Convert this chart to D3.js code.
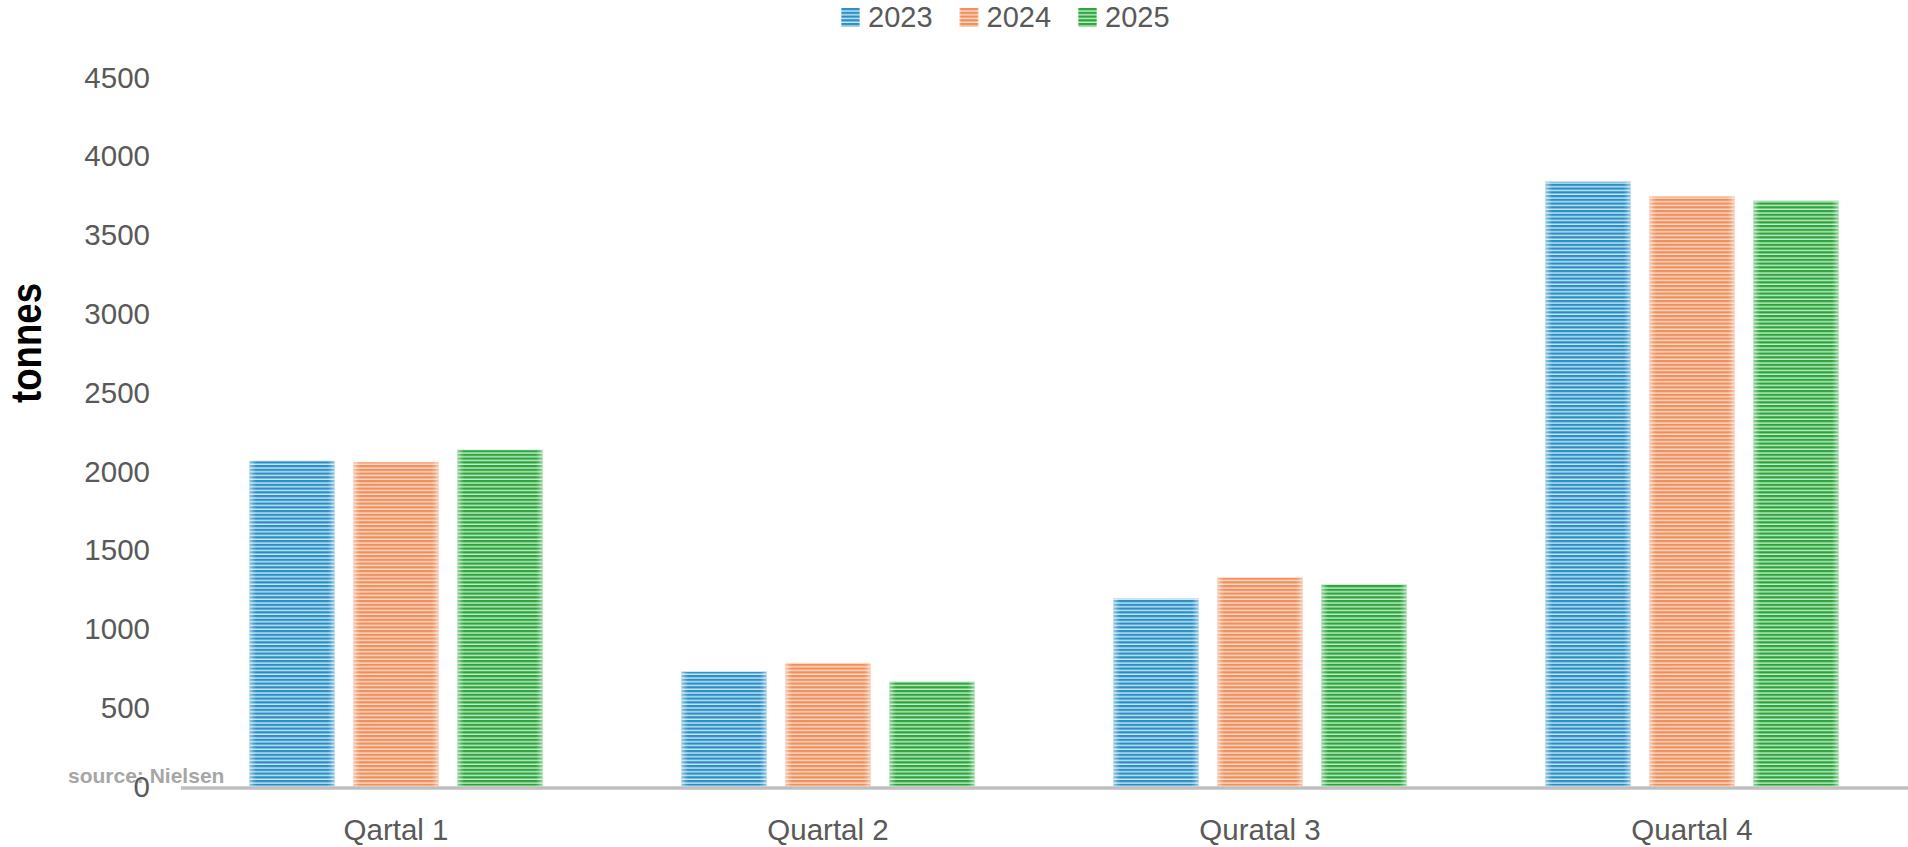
<!DOCTYPE html>
<html>
<head>
<meta charset="utf-8">
<script src="https://cdn.jsdelivr.net/npm/d3@7/dist/d3.min.js"></script>
<style>
  html, body { margin: 0; padding: 0; background: #fff; }
  svg { display: block; }
</style>
</head>
<body>
<svg id="chart" width="1908" height="847"></svg>
<script>
const categories = ["Qartal 1", "Quartal 2", "Quratal 3", "Quartal 4"];
const years = ["2023", "2024", "2025"];
const values2023 = [2063, 725, 1190, 3836];
const values2024 = [2056, 780, 1322, 3743];
const values2025 = [2133, 661, 1278, 3714];
const yTicks = [0, 500, 1000, 1500, 2000, 2500, 3000, 3500, 4000, 4500];
const seriesValues = [values2023, values2024, values2025];

const darkColors = ["#2590c8", "#f08e5a", "#28a63a"];
const lightColors = ["#cfe4f1", "#fadccb", "#c9eacd"];

const svg = d3.select("#chart");
const defs = svg.append("defs");

years.forEach((yr, i) => {
  const p = defs.append("pattern")
    .attr("id", "stripe" + i)
    .attr("patternUnits", "userSpaceOnUse")
    .attr("width", 20).attr("height", 3.75);
  p.append("rect").attr("width", 20).attr("height", 3.75).attr("fill", lightColors[i]);
  p.append("rect").attr("width", 20).attr("height", 2.3).attr("fill", darkColors[i]);
});
const g = defs.append("linearGradient").attr("id", "edgeFade")
  .attr("x1", "0").attr("x2", "1").attr("y1", "0").attr("y2", "0");
[[0, 0.5], [0.08, 0], [0.92, 0], [1, 0.5]].forEach(([o, a]) => {
  g.append("stop").attr("offset", o).attr("stop-color", "#fff").attr("stop-opacity", a);
});

const x0 = d3.scaleBand().domain(categories).range([180, 1908]).padding(0);
const x1 = d3.scaleBand().domain(years).range([0, x0.bandwidth()])
  .paddingInner(0.178).paddingOuter(0.666);
const y = d3.scaleLinear().domain([0, 4500]).range([786, 77]);

// y tick labels
svg.append("g").selectAll("text").data(yTicks).join("text")
  .attr("x", 150).attr("y", d => y(d)).attr("dy", "0.36em")
  .attr("text-anchor", "end")
  .attr("font-family", "Liberation Sans, Arial, sans-serif")
  .attr("font-size", 29.5).attr("fill", "#595959")
  .text(d => d);

// source
svg.append("text").attr("x", 68).attr("y", 783)
  .attr("font-family", "Liberation Sans, Arial, sans-serif")
  .attr("font-weight", "bold").attr("font-size", 21).attr("fill", "#a6a6a6")
  .text("source: Nielsen");

// bars
const groups = svg.append("g").selectAll("g").data(categories).join("g")
  .attr("transform", d => `translate(${x0(d)},0)`);
groups.each(function(cat, ci) {
  const grp = d3.select(this);
  years.forEach((yr, si) => {
    const v = seriesValues[si][ci];
    grp.append("rect")
      .attr("x", x1(yr)).attr("y", y(v))
      .attr("width", x1.bandwidth()).attr("height", y(0) - y(v))
      .attr("fill", `url(#stripe${si})`);
    grp.append("rect")
      .attr("x", x1(yr)).attr("y", y(v))
      .attr("width", x1.bandwidth()).attr("height", y(0) - y(v))
      .attr("fill", "url(#edgeFade)")
      .attr("stroke", lightColors[si]).attr("stroke-width", 0.6);
  });
});

// axis line
svg.append("line").attr("x1", 181).attr("x2", 1908)
  .attr("y1", 788).attr("y2", 788)
  .attr("stroke", "#bfbfbf").attr("stroke-width", 3.5);

// category labels
svg.append("g").selectAll("text").data(categories).join("text")
  .attr("x", d => x0(d) + x0.bandwidth() / 2).attr("y", 840)
  .attr("text-anchor", "middle")
  .attr("font-family", "Liberation Sans, Arial, sans-serif")
  .attr("font-size", 29.5).attr("fill", "#595959")
  .text(d => d);

// y title
svg.append("text")
  .attr("transform", "translate(41,343) rotate(-90)")
  .attr("text-anchor", "middle")
  .attr("font-family", "Liberation Sans, Arial, sans-serif")
  .attr("font-weight", "bold").attr("font-size", 42).attr("fill", "#000")
  .attr("textLength", 120).attr("lengthAdjust", "spacingAndGlyphs")
  .text("tonnes");

// legend
const legend = svg.append("g").selectAll("g").data(years).join("g")
  .attr("transform", (d, i) => `translate(${841 + i * 118.5},8)`);
legend.append("rect").attr("width", 19).attr("height", 19)
  .attr("fill", (d, i) => `url(#stripe${i})`);
legend.append("rect").attr("width", 19).attr("height", 19)
  .attr("fill", "url(#edgeFade)");
legend.append("text").attr("x", 27).attr("y", 19).attr("text-anchor", "start")
  .attr("font-family", "Liberation Sans, Arial, sans-serif")
  .attr("font-size", 29).attr("fill", "#595959")
  .text(d => d);
</script>
</body>
</html>
